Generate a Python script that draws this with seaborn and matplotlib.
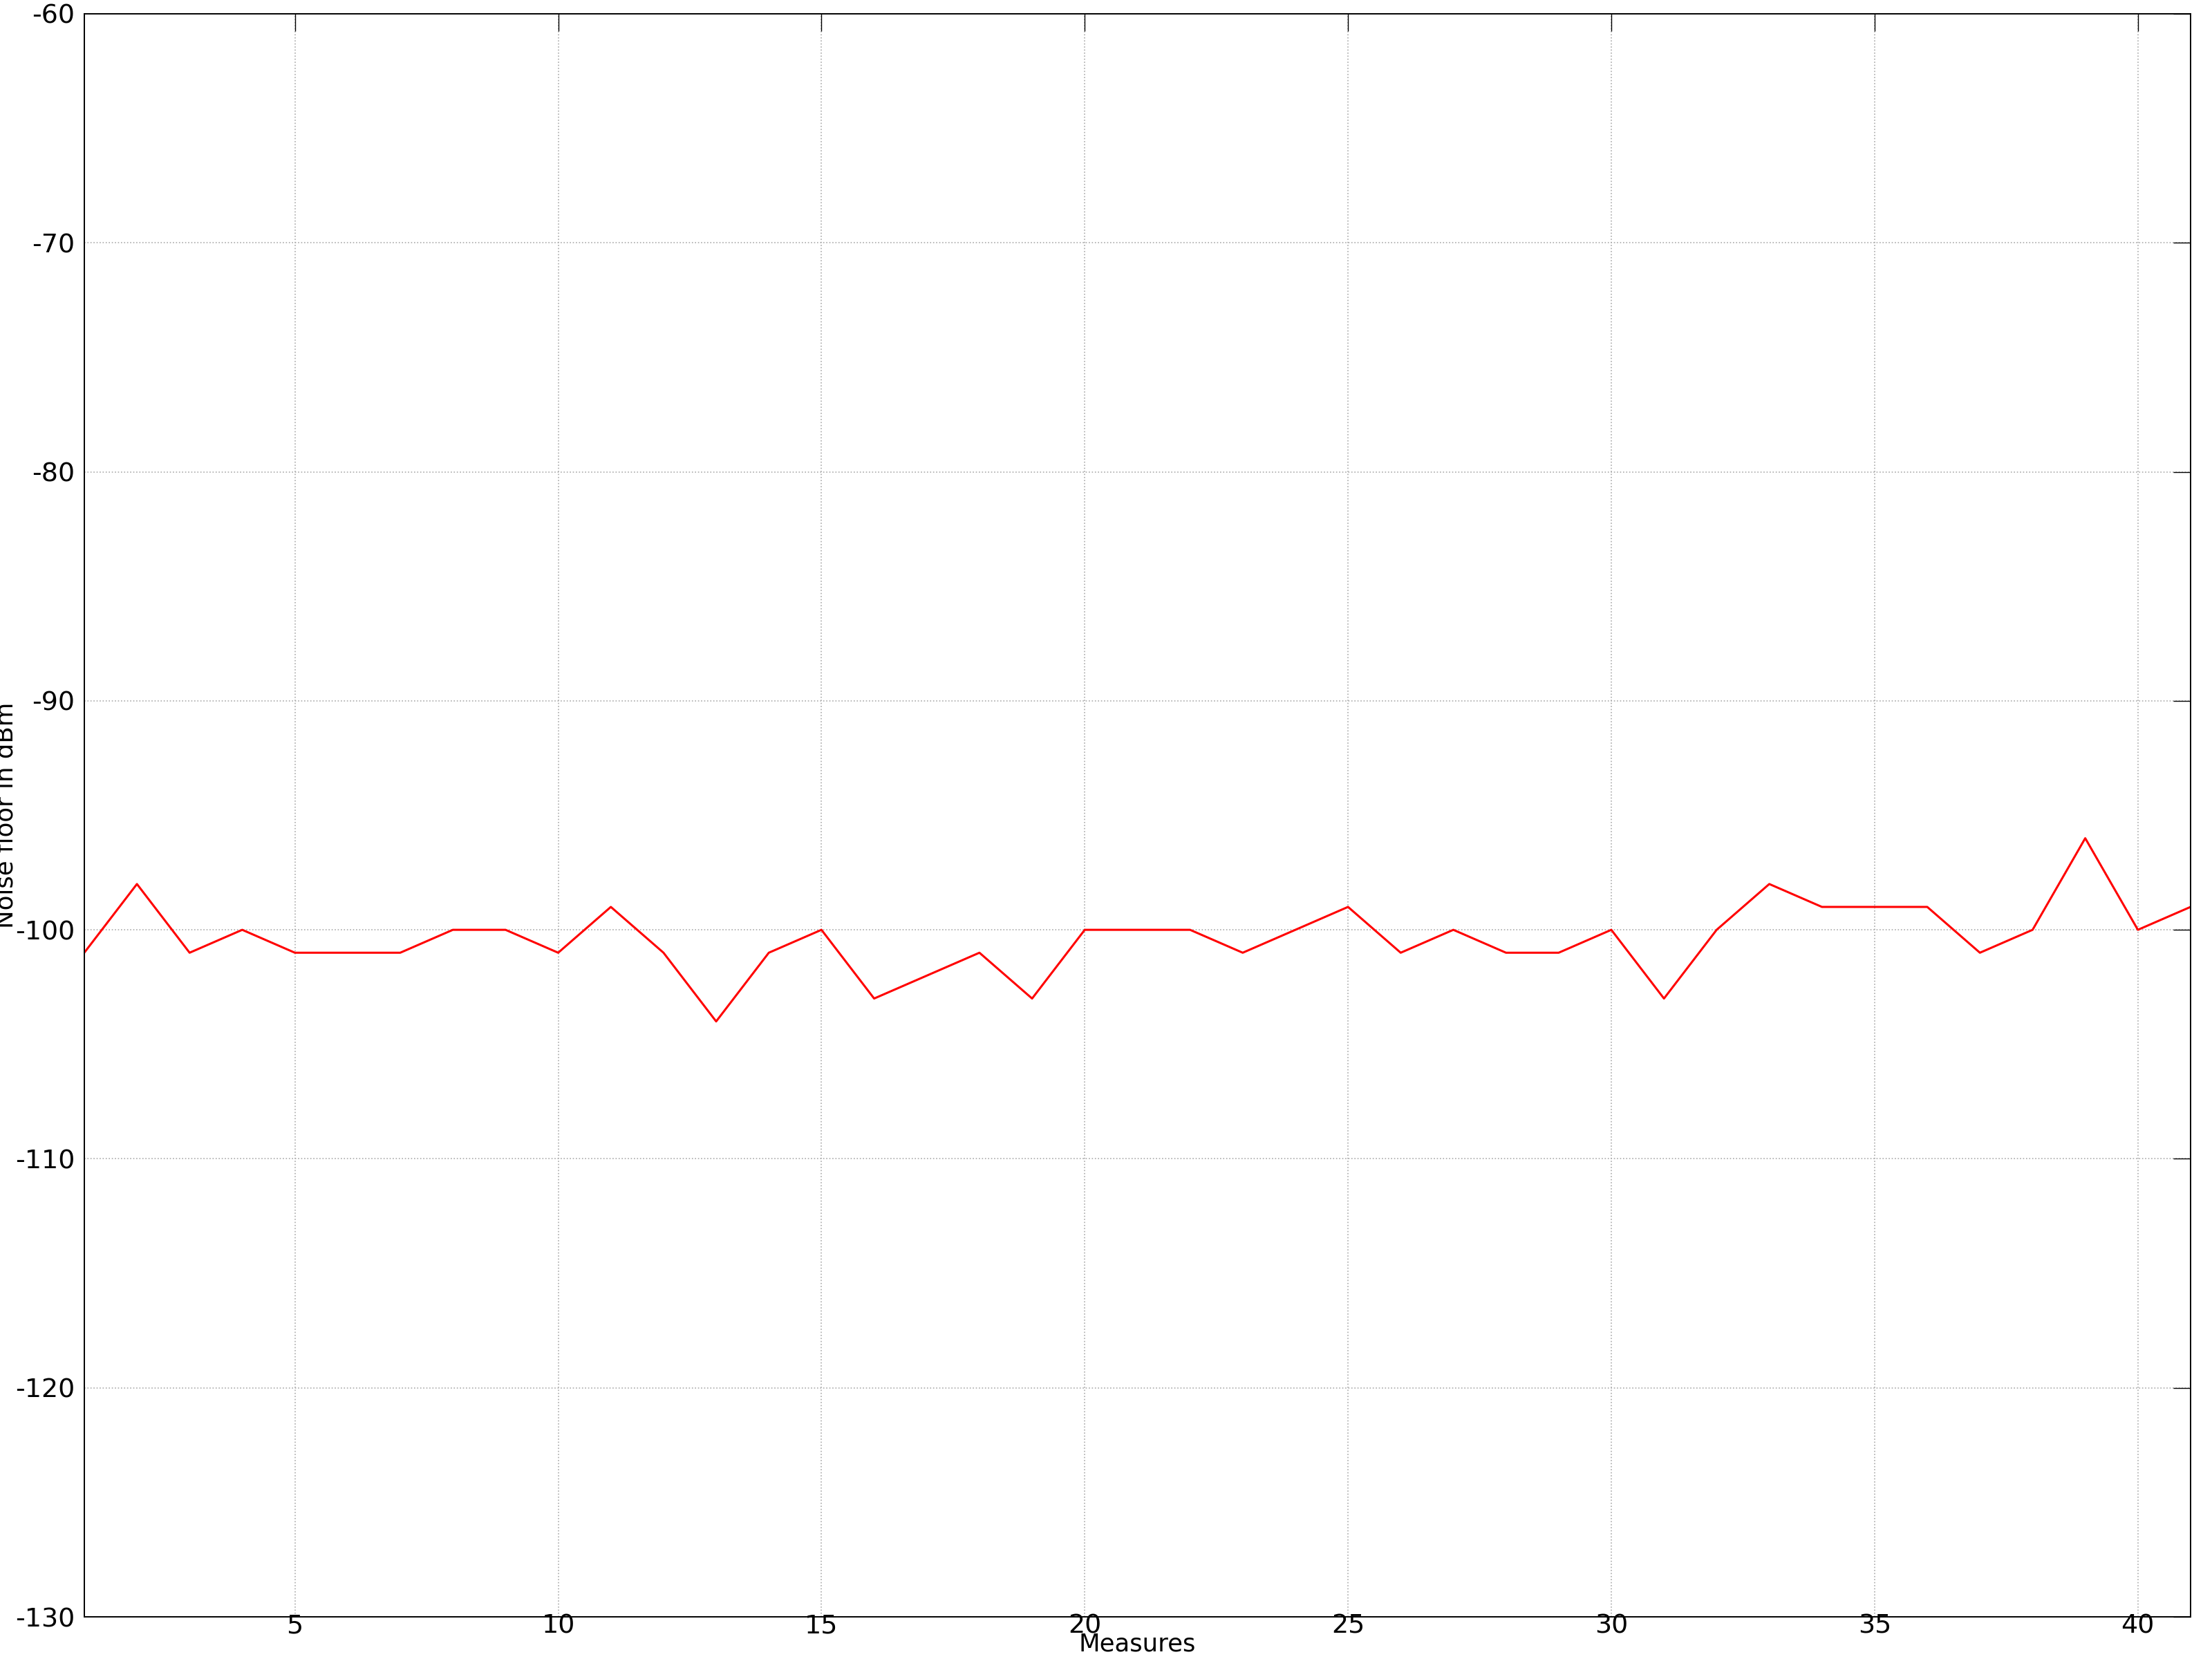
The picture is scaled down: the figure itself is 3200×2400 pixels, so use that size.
import numpy as np
import pandas as pd
import matplotlib
matplotlib.use("Agg")
import matplotlib.pyplot as plt
import seaborn as sns

# Daten
measures = list(range(1, 42))
noise_dbm = [-101, -98, -101, -100, -101, -101, -101, -100, -100, -101,
             -99, -101, -104, -101, -100, -103, -102, -101, -103, -100,
             -100, -100, -101, -100, -99, -101, -100, -101, -101, -100,
             -103, -100, -98, -99, -99, -99, -101, -100, -96, -100, -99]
x_ticks = [5, 10, 15, 20, 25, 30, 35, 40]
y_ticks = [-130, -120, -110, -100, -90, -80, -70, -60]

df = pd.DataFrame({"Measures": measures, "Noise": noise_dbm})

sns.set_style("white", {"text.color": "black", "axes.labelcolor": "black",
                        "xtick.color": "black", "ytick.color": "black"})
plt.rcParams['font.family'] = ['DejaVu Sans']
plt.rcParams['axes.unicode_minus'] = False

fig = plt.figure(figsize=(16, 12), dpi=200)
ax = fig.add_axes([0.0381, 0.0254, 0.9522, 0.9663])

sns.lineplot(data=df, x="Measures", y="Noise", color="red", linewidth=1.1, ax=ax)

ax.set_xlim(1, 41)
ax.set_ylim(-130, -60)
ax.set_xticks(x_ticks)
ax.set_yticks(y_ticks)
ax.grid(True, color="#aaaaaa", linestyle=":", linewidth=0.6)

for sp in ax.spines.values():
    sp.set_visible(True)
    sp.set_color("black")
    sp.set_linewidth(0.7)

ax.tick_params(axis="both", direction="in", length=9, width=0.5, color="black",
               labelcolor="black", top=True, right=True, labelsize=13.7)
ax.tick_params(axis="x", pad=-1.5)
ax.tick_params(axis="y", pad=5)

ax.set_xlabel("Measures", fontsize=12.8, color="black")
ax.set_ylabel("Noise floor in dBm", fontsize=12.8, color="black")
ax.xaxis.set_label_coords(0.5, -0.0095)
ax.yaxis.set_label_coords(-0.0315, 0.5)

fig.savefig("out.png", dpi=200)
